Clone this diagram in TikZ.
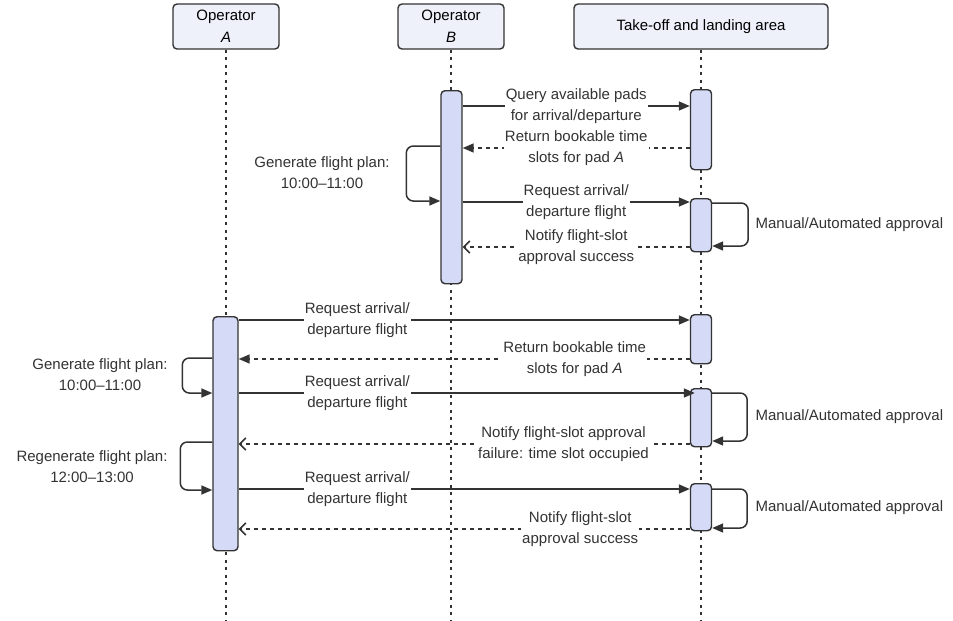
\documentclass[tikz,border=0pt]{standalone}
\usepackage{fontspec}
\setmainfont{Liberation Sans}
\usetikzlibrary{arrows.meta}
\definecolor{hdr}{HTML}{EEF0FA}
\definecolor{act}{HTML}{D5DAF6}
\definecolor{ln}{HTML}{333333}
\begin{document}
\begin{tikzpicture}[x=1pt,y=-1pt,
  font=\fontsize{15}{21}\selectfont,
  hdrbox/.style={draw=ln, line width=1.4pt, fill=hdr, rounded corners=4pt, minimum height=45pt, align=center, inner sep=0pt},
  actbox/.style={draw=ln, line width=1.4pt, fill=act, rounded corners=4pt, minimum width=21pt, anchor=north, inner sep=0pt},
  life/.style={ln, line width=1.6pt, dash pattern=on 3pt off 4.5pt},
  msg/.style={ln, line width=1.5pt, -{Triangle[length=11pt,width=9pt]}},
  ret/.style={ln, line width=1.5pt, dash pattern=on 4pt off 4pt, -{Triangle[length=11pt,width=9pt]}},
  retopen/.style={ln, line width=1.5pt, dash pattern=on 4pt off 4pt, -{Straight Barb[length=6pt,width=12pt]}},
  lbl/.style={fill=white, align=center, inner sep=1pt, text=ln},
  selfloop/.style={ln, line width=1.5pt, rounded corners=7pt, -{Triangle[length=11pt,width=9pt]}},
  note/.style={align=center, text=ln}
]
\useasboundingbox[fill=white] (0,0) rectangle (953,621);

% headers
\node[hdrbox, minimum width=106pt] (opA) at (226,26.5) {Operator\\[1pt]\textit{A}};
\node[hdrbox, minimum width=106pt] (opB) at (451,26.5) {Operator\\[1pt]\textit{B}};
\node[hdrbox, minimum width=254pt] (tla) at (701,26.5) {Take-off and landing area};

% lifelines
\coordinate (endA) at (226,621);
\coordinate (endB) at (451,621);
\coordinate (endT) at (701,621);
\draw[life] (opA.south) -- (endA);
\draw[life] (opB.south) -- (endB);
\draw[life] (tla.south) -- (endT);

% activations
\node[actbox, minimum height=193pt] (actB) at (451.5,90) {};
\node[actbox, minimum height=80pt] (tl1) at (701,89) {};
\node[actbox, minimum height=53pt] (tl2) at (701,198) {};
\node[actbox, minimum height=234pt, minimum width=25pt] (actA) at (225.5,316) {};
\node[actbox, minimum height=49pt] (tl3) at (701,314) {};
\node[actbox, minimum height=58pt] (tl4) at (701,388) {};
\node[actbox, minimum height=47pt] (tl5) at (701,483) {};

% upper exchange (operator B)
\draw[msg] (actB.east |- 0,106) -- node[lbl] {Query available pads\\for arrival/departure} (tl1.west |- 0,106);
\draw[ret] (tl1.west |- 0,148) -- node[lbl] {Return bookable time\\slots for pad \textit{A}} (actB.east |- 0,148);
\draw[selfloop] (actB.west |- 0,146) -- ++(-34,0) |- (actB.west |- 0,201);
\node[note] (genB) at (322,172.5) {Generate flight plan:\\10:00--11:00};
\draw[msg] (actB.east |- 0,202) -- node[lbl] {Request arrival/\\departure flight} (tl2.west |- 0,202);
\draw[selfloop] (tl2.east |- 0,203) -- ++(36,0) |- (tl2.east |- 0,246);
\node[note, anchor=west] (appr1) at (752,225) {Manual/Automated approval};
\draw[retopen] (tl2.west |- 0,247) -- node[lbl] {Notify flight-slot\\approval success} (actB.east |- 0,247);

% lower exchange (operator A)
\draw[msg] (actA.east |- 0,320) -- node[lbl, pos=0.263] {Request arrival/\\departure flight} (tl3.west |- 0,320);
\draw[ret] (tl3.west |- 0,359) -- node[lbl, pos=0.255] {Return bookable time\\slots for pad \textit{A}} (actA.east |- 0,359);
\draw[selfloop] (actA.west |- 0,358) -- ++(-30,0) |- (actA.west |- 0,393);
\node[note] (genA) at (100,375) {Generate flight plan:\\10:00--11:00};
\draw[msg, shorten >=-5pt] (actA.east |- 0,393) -- node[lbl, pos=0.263] {Request arrival/\\departure flight} (tl4.west |- 0,393);
\draw[selfloop] (tl4.east |- 0,393) -- ++(35,0) |- (tl4.east |- 0,441);
\node[note, anchor=west] (appr2) at (752,417) {Manual/Automated approval};
\draw[retopen] (tl4.west |- 0,444) -- node[lbl, pos=0.28] {Notify flight-slot approval\\failure: time slot occupied} (actA.east |- 0,444);
\draw[selfloop] (actA.west |- 0,442) -- ++(-32,0) |- (actA.west |- 0,490);
\node[note] (regenA) at (92,466.5) {Regenerate flight plan:\\12:00--13:00};
\draw[msg] (actA.east |- 0,489) -- node[lbl, pos=0.263] {Request arrival/\\departure flight} (tl5.west |- 0,489);
\draw[selfloop] (tl5.east |- 0,489) -- ++(35,0) |- (tl5.east |- 0,528);
\node[note, anchor=west] (appr3) at (752,508) {Manual/Automated approval};
\draw[retopen] (tl5.west |- 0,529) -- node[lbl, pos=0.243] {Notify flight-slot\\approval success} (actA.east |- 0,529);
\end{tikzpicture}
\end{document}
